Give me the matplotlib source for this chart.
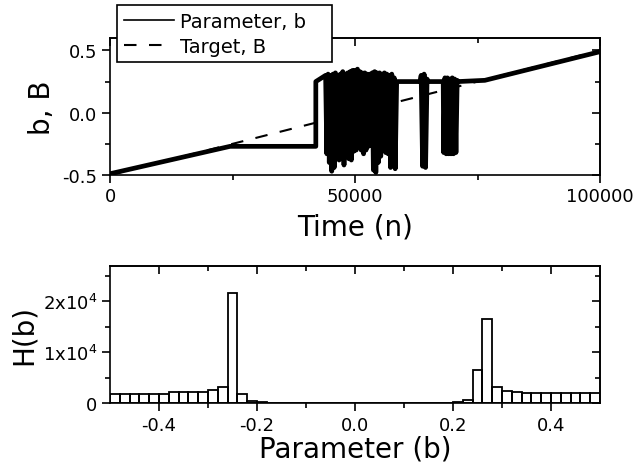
import matplotlib
matplotlib.use("Agg")
import matplotlib.pyplot as plt
from matplotlib.lines import Line2D
from matplotlib.ticker import FixedLocator, NullFormatter

# --- time series: parameter b (vertices) ---
time_n = [
    0, 24500, 42000, 42000, 44000,
    44250, 44500, 44750, 45000, 45250, 45500, 45750, 46000, 46250, 46500,
    46750, 47000, 47250, 47500, 47750, 48000, 48250, 48500, 48750, 49000,
    49250, 49500, 49750, 50000, 50250, 50500, 50750, 51000, 51250, 51500,
    51750, 52000, 52250, 52500, 52750, 53000, 53250, 53500, 53750, 54000,
    54250, 54500, 54750, 55000, 55250, 55500, 55750, 56000, 56250, 56500,
    56750, 57000, 57250, 57500, 57750, 58000, 58200, 58500,
    63300, 63500, 63800, 64100, 64400, 64700, 65000, 68000,
    68100, 68350, 68600, 68850, 69100, 69350, 69600, 69850, 70100, 70350,
    70600, 70850, 71000, 76500, 100000,
]
param_b = [
    -0.49, -0.27, -0.27, 0.25, 0.30,
    -0.33, 0.31, -0.40, 0.30, -0.47, 0.31, -0.44, 0.32, -0.36, 0.30,
    -0.38, 0.31, -0.30, 0.33, -0.42, 0.31, -0.35, 0.32, -0.37, 0.33,
    -0.38, 0.34, -0.31, 0.34, -0.30, 0.35, -0.28, 0.33, -0.30, 0.32,
    -0.33, 0.32, -0.30, 0.31, -0.27, 0.31, -0.26, 0.32, -0.46, 0.33,
    -0.48, 0.32, -0.40, 0.32, -0.35, 0.31, -0.30, 0.32, -0.32, 0.31,
    -0.33, 0.30, -0.44, 0.31, -0.40, 0.28, -0.45, 0.25,
    0.25, 0.30, -0.43, 0.31, -0.44, 0.27, 0.25, 0.25,
    -0.32, 0.28, -0.33, 0.28, -0.33, 0.27, -0.33, 0.28, -0.33, 0.27,
    -0.32, 0.26, 0.25, 0.26, 0.49,
]

# target B (straight ramp)
target_n = [0, 100000]
target_B = [-0.5, 0.5]

# --- histogram H(b), bins of 0.02 from -0.5 to 0.5 ---
bin_left = [round(-0.5 + 0.02 * i, 2) for i in range(50)]
counts = [
    1800, 1800, 1800, 1800, 1800, 1850, 2100, 2100, 2100, 2200,
    2500, 3150, 21700, 1850, 350, 200, 80, 30, 0, 0,
    0, 0, 0, 0, 0, 0, 0, 0, 0, 0,
    0, 0, 0, 0, 0, 100, 600, 6400, 16600, 3200,
    2400, 2100, 1950, 1950, 1900, 1900, 1900, 1900, 1900, 1900,
]
hist_yticks = [0, 10000, 20000]
hist_yticklabels = ["0", r"1x10$^4$", r"2x10$^4$"]

top_xticks = [0, 50000, 100000]
top_xminor = [25000, 75000]
top_yticks = [-0.5, 0.0, 0.5]
top_yminor = [-0.25, 0.25]
hist_xticks = [-0.4, -0.2, 0.0, 0.2, 0.4]
hist_xminor = [-0.3, -0.1, 0.1, 0.3]
hist_yminor = [5000, 15000, 25000]


def set_ticks(ax, xmaj, xmin, ymaj, ymin):
    ax.xaxis.set_major_locator(FixedLocator(xmaj))
    ax.xaxis.set_minor_locator(FixedLocator(xmin))
    ax.yaxis.set_major_locator(FixedLocator(ymaj))
    ax.yaxis.set_minor_locator(FixedLocator(ymin))
    for s in ax.spines.values():
        s.set_linewidth(1.2)
    ax.tick_params(which="both", direction="out", width=1.2, labelsize=13, pad=3)
    ax.tick_params(which="major", length=6)
    ax.tick_params(which="minor", length=3.5)
    # inward ticks on top and right
    sx = ax.secondary_xaxis("top")
    sy = ax.secondary_yaxis("right")
    for sec, axis in ((sx, sx.xaxis), (sy, sy.yaxis)):
        axis.set_major_locator(FixedLocator(xmaj if axis is sx.xaxis else ymaj))
        axis.set_minor_locator(FixedLocator(xmin if axis is sx.xaxis else ymin))
        axis.set_major_formatter(NullFormatter())
        sec.tick_params(which="both", direction="in", width=1.2)
        sec.tick_params(which="major", length=6)
        sec.tick_params(which="minor", length=3.5)
        for s in sec.spines.values():
            s.set_linewidth(1.2)


fig = plt.figure(figsize=(6.36, 4.64), dpi=100)

# ---------------- top panel ----------------
ax1 = fig.add_axes([0.1730, 0.6207, 0.7704, 0.2953])
ax1.plot(target_n, target_B, color="black", lw=1.5, dashes=(6, 6), zorder=2)
ax1.plot(time_n, param_b, color="black", lw=3.4, solid_joinstyle="round",
         solid_capstyle="butt", zorder=3)
ax1.set_xlim(0, 100000)
ax1.set_ylim(-0.5, 0.6)
set_ticks(ax1, top_xticks, top_xminor, top_yticks, top_yminor)
ax1.set_xticklabels(["0", "50000", "100000"])
ax1.set_yticklabels(["-0.5", "0.0", "0.5"])
ax1.set_xlabel("Time (n)", fontsize=20, labelpad=5)
ax1.set_ylabel("b, B", fontsize=20, labelpad=5)

# ---------------- bottom panel ----------------
ax2 = fig.add_axes([0.1730, 0.1293, 0.7704, 0.2959])
ax2.bar(bin_left, counts, width=0.02, align="edge", fill=False,
        edgecolor="black", linewidth=1.3)
ax2.set_xlim(-0.5, 0.5)
ax2.set_ylim(0, 27000)
set_ticks(ax2, hist_xticks, hist_xminor, hist_yticks, hist_yminor)
ax2.set_xticklabels(["-0.4", "-0.2", "0.0", "0.2", "0.4"])
ax2.set_yticklabels(hist_yticklabels)
ax2.set_xlabel("Parameter (b)", fontsize=20, labelpad=1)
ax2.set_ylabel("H(b)", fontsize=20, labelpad=4)

handles = [
    Line2D([], [], color="black", lw=1.2),
    Line2D([], [], color="black", lw=1.5, dashes=(6, 6)),
]
leg = ax1.legend(handles, ["Parameter, b   ", "Target, B"], loc="upper left",
                 bbox_to_anchor=(0.0143, 1.241), fontsize=14, frameon=True,
                 fancybox=False, edgecolor="black", framealpha=1,
                 handlelength=2.6, handletextpad=0.3, borderpad=0.35,
                 labelspacing=0.3, borderaxespad=0)
leg.get_frame().set_linewidth(1.2)
leg.set_zorder(5)

fig.savefig("out.png", dpi=100)
